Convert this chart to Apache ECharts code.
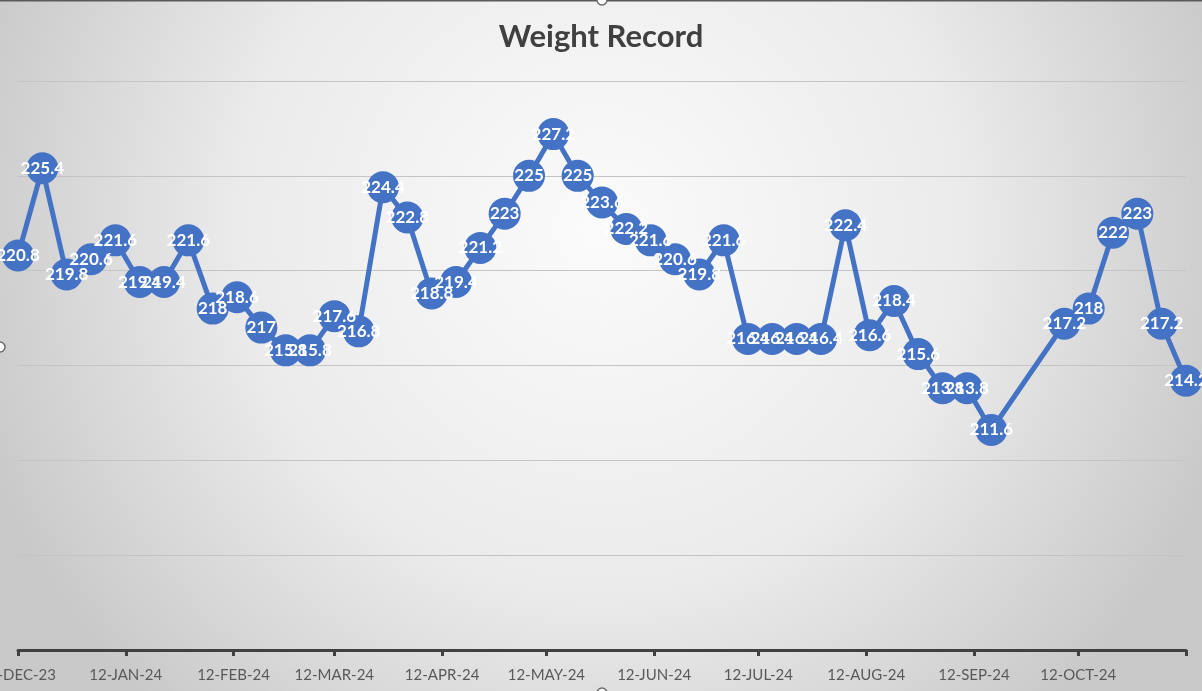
<!DOCTYPE html>
<html>
<head>
<meta charset="utf-8">
<script src="https://cdn.jsdelivr.net/npm/echarts@6/dist/echarts.min.js"></script>
<style>
  html, body { margin: 0; padding: 0; }
  #chart { width: 1202px; height: 691px; }
</style>
</head>
<body>
<div id="chart"></div>
<script>
// ---- data ----
const dates = [
  '2023-12-12','2023-12-19','2023-12-26','2024-01-02','2024-01-09','2024-01-16','2024-01-23','2024-01-30',
  '2024-02-06','2024-02-13','2024-02-20','2024-02-27','2024-03-05','2024-03-12','2024-03-19','2024-03-26',
  '2024-04-02','2024-04-09','2024-04-16','2024-04-23','2024-04-30','2024-05-07','2024-05-14','2024-05-21',
  '2024-05-28','2024-06-04','2024-06-11','2024-06-18','2024-06-25','2024-07-02','2024-07-09','2024-07-16',
  '2024-07-23','2024-07-30','2024-08-06','2024-08-13','2024-08-20','2024-08-27','2024-09-03','2024-09-10',
  '2024-09-17','2024-10-08','2024-10-15','2024-10-22','2024-10-29','2024-11-05','2024-11-12'
];
const weights = [
  220.8, 225.4, 219.8, 220.6, 221.6, 219.4, 219.4, 221.6,
  218, 218.6, 217, 215.8, 215.8, 217.6, 216.8, 224.4,
  222.8, 218.8, 219.4, 221.2, 223, 225, 227.2, 225,
  223.6, 222.2, 221.6, 220.6, 219.8, 221.6, 216.4, 216.4,
  216.4, 216.4, 222.4, 216.6, 218.4, 215.6, 213.8, 213.8,
  211.6, 217.2, 218, 222, 223, 217.2, 214.2
];
const tickDates = [
  '2023-12-12','2024-01-12','2024-02-12','2024-03-12','2024-04-12','2024-05-12',
  '2024-06-12','2024-07-12','2024-08-12','2024-09-12','2024-10-12','2024-11-12'
];
const tickLabels = [
  '12-DEC-23','12-JAN-24','12-FEB-24','12-MAR-24','12-APR-24','12-MAY-24',
  '12-JUN-24','12-JUL-24','12-AUG-24','12-SEP-24','12-OCT-24',''
];
const yMin = 200, yMax = 230, yStep = 5;
const chartTitle = 'Weight Record';

// ---- helpers ----
function ts(s) { const p = s.split('-').map(Number); return Date.UTC(p[0], p[1] - 1, p[2]); }
const tickTs = tickDates.map(ts);
const labelTs = tickTs.filter((t, i) => tickLabels[i] !== '');
const seriesData = dates.map((d, i) => [ts(d), weights[i]]);

const chart = echarts.init(document.getElementById('chart'), null, { renderer: 'canvas' });
const blue = '#4472C4';

chart.setOption({
  animation: false,
  backgroundColor: {
    type: 'radial', x: 0.5, y: 0.33, r: 0.95,
    colorStops: [
      { offset: 0, color: '#fbfbfb' },
      { offset: 0.55, color: '#ebebeb' },
      { offset: 1, color: '#c9c9c9' }
    ]
  },
  title: {
    text: chartTitle,
    left: 'center',
    top: 16,
    textStyle: { fontFamily: 'Lato', fontWeight: 'bold', fontSize: 31, color: '#404040' }
  },
  grid: { left: 18, right: 16, top: 81, bottom: 41, containLabel: false, outerBoundsMode: 'none' },
  xAxis: {
    type: 'value',
    min: tickTs[0],
    max: tickTs[tickTs.length - 1],
    axisLine: { show: true, onZero: false, lineStyle: { color: '#404040', width: 3 } },
    axisTick: {
      show: true, customValues: tickTs, length: 6,
      lineStyle: { color: '#404040', width: 3 }
    },
    axisLabel: {
      customValues: labelTs,
      margin: 18,
      showMinLabel: true, showMaxLabel: true,
      fontFamily: 'Lato', fontSize: 15, color: '#595959',
      formatter: function (v) {
        const i = tickTs.indexOf(v);
        return i >= 0 ? tickLabels[i] : '';
      }
    },
    splitLine: { show: false }
  },
  yAxis: {
    type: 'value',
    min: yMin, max: yMax, interval: yStep,
    axisLine: { show: false },
    axisTick: { show: false },
    axisLabel: { show: false },
    splitLine: { show: true, lineStyle: { color: '#c4c4c4', width: 1 } }
  },
  series: [{
    type: 'line',
    data: seriesData,
    symbol: 'circle',
    symbolSize: 32,
    itemStyle: { color: blue, borderWidth: 0 },
    lineStyle: { color: blue, width: 5 },
    label: {
      show: true, position: 'inside',
      fontFamily: 'Lato', fontWeight: 'bold', fontSize: 17, color: '#ffffff',
      formatter: function (p) { return String(p.value[1]); }
    },
    emphasis: { disabled: true }
  }],
  graphic: [
    { type: 'line', shape: { x1: 0, y1: 0.5, x2: 1202, y2: 0.5 }, style: { stroke: '#5a5a5a', lineWidth: 2 }, z: 100 },
    { type: 'circle', shape: { cx: 602, cy: 0, r: 5 }, style: { fill: '#ffffff', stroke: '#6b6b6b', lineWidth: 1.5 }, z: 101 },
    { type: 'circle', shape: { cx: 0, cy: 347, r: 5 }, style: { fill: '#ffffff', stroke: '#6b6b6b', lineWidth: 1.5 }, z: 101 },
    { type: 'circle', shape: { cx: 602, cy: 693, r: 5 }, style: { fill: '#ffffff', stroke: '#6b6b6b', lineWidth: 1.5 }, z: 101 }
  ]
});
</script>
</body>
</html>
